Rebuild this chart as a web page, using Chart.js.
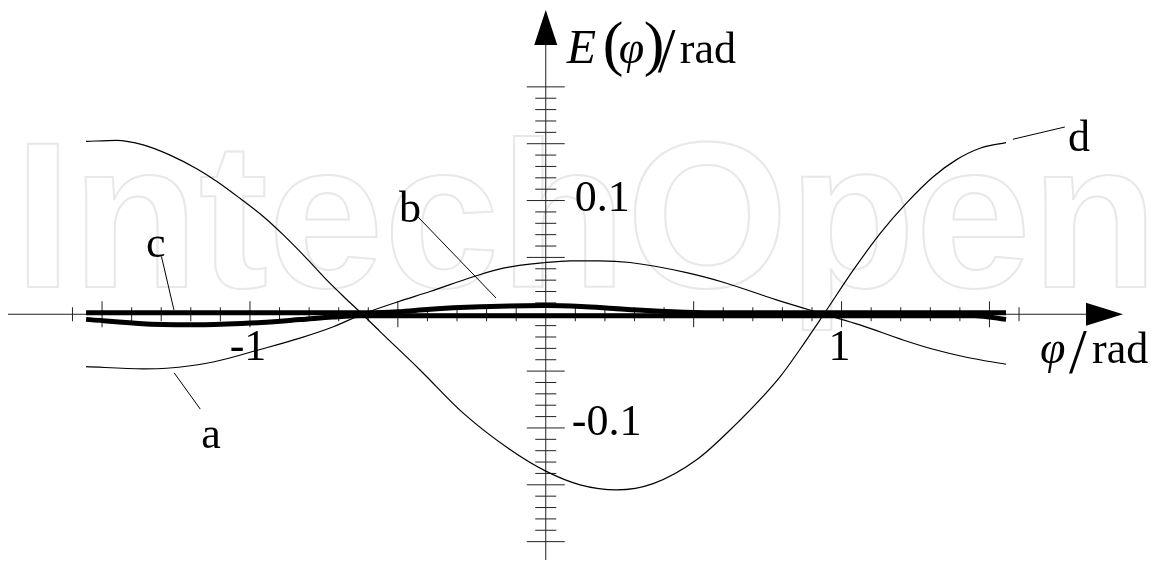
<!DOCTYPE html>
<html>
<head>
<meta charset="utf-8">
<script src="https://cdn.jsdelivr.net/npm/chart.js@4"></script>
<style>
  body { margin: 0; background: #fff; }
  canvas { display: block; }
</style>
</head>
<body>
<canvas id="myChart" width="1156" height="562"></canvas>
<script>
// Curve d (thin)
const dPhi = [-1.554, -1.451, -1.361, -1.270, -1.180, -1.113, -1.034, -0.955, -0.888, -0.808, -0.740, -0.673, -0.620, -0.561, -0.425, -0.279, -0.121, 0, 0.116, 0.240, 0.363, 0.510, 0.634, 0.792, 0.859, 0.940, 1.040, 1.130, 1.220, 1.310, 1.389, 1.468, 1.556];
const dE   = [0.152, 0.153, 0.149, 0.140, 0.128, 0.117, 0.102, 0.086, 0.070, 0.049, 0.030, 0.013, 0, -0.015, -0.049, -0.087, -0.119, -0.138, -0.150, -0.1545, -0.149, -0.128, -0.099, -0.055, -0.031, 0, 0.039, 0.071, 0.098, 0.121, 0.136, 0.146, 0.151];

// Curve a (thin)
const aPhi = [-1.554, -1.361, -1.282, -1.124, -0.966, -0.831, -0.718, -0.620, -0.499, -0.391, -0.245, -0.144, 0, 0.083, 0.183, 0.285, 0.476, 0.611, 0.780, 0.940, 1.062, 1.208, 1.310, 1.422, 1.556];
const aE   = [-0.046, -0.048, -0.0475, -0.042, -0.031, -0.021, -0.011, 0, 0.011, 0.020, 0.033, 0.0405, 0.0455, 0.047, 0.047, 0.0455, 0.0366, 0.0273, 0.0126, 0, -0.0094, -0.0226, -0.0308, -0.0378, -0.044];

// Curve b (thick, small bump)
const bPhi = [-1.554, -1.0, -0.6, -0.5, -0.39, -0.22, 0, 0.12, 0.23, 0.34, 0.5, 0.6, 1.0, 1.556];
const bE   = [0.0013, 0.0013, 0.0013, 0.0022, 0.0045, 0.0065, 0.0077, 0.0068, 0.005, 0.0032, 0.0015, 0.0013, 0.0013, 0.0013];

// Curve c (thick, small dip)
const cPhi = [-1.554, -1.35, -1.17, -1.0, -0.83, -0.72, -0.63, 0, 1.0, 1.45, 1.556];
const cE   = [-0.0045, -0.0085, -0.0092, -0.0077, -0.0047, -0.0025, -0.0013, -0.0013, -0.0013, -0.0013, -0.0045];

// Axis ticks
const xTicks = Array.from({ length: 33 }, (_, i) => (i - 16) / 10); // -1.6 .. 1.6
const yTicks = Array.from({ length: 41 }, (_, i) => (i - 20) / 100); // -0.2 .. 0.2
const xTickLabels = [-1, 1];
const yTickLabels = [0.1, -0.1];

// visible window of the axes
const xMin = -1.845, xMax = 2.063;
const yMin = -0.2179, yMax = 0.2764;

const toPoints = (xs, ys) => xs.map((x, i) => ({ x: x, y: ys[i] }));

const serif = '"Liberation Serif", "Times New Roman", serif';
const ink = '#000';

function arrow(ctx, tipX, tipY, dx, dy, len, half) {
    const bx = tipX - dx * len, by = tipY - dy * len;
    ctx.beginPath();
    ctx.moveTo(tipX, tipY);
    ctx.lineTo(bx - dy * half, by + dx * half);
    ctx.lineTo(bx + dy * half, by - dx * half);
    ctx.closePath();
    ctx.fill();
}

function txt(ctx, s, font, x, y) {
    ctx.font = font;
    ctx.fillText(s, x, y);
}

const axesPlugin = {
    id: 'crossAxes',
    beforeDraw(chart) {
        // faint watermark behind everything
        const ctx = chart.ctx;
        ctx.save();
        ctx.font = 'bold 208px "Liberation Sans", Arial, sans-serif';
        ctx.strokeStyle = '#e8e8e8';
        ctx.lineWidth = 2;
        ctx.textBaseline = 'alphabetic';
        ctx.strokeText('IntechOpen', 14, 287);
        ctx.restore();
    },
    beforeDatasetsDraw(chart) {
        const ctx = chart.ctx;
        const xs = chart.scales.x, ys = chart.scales.y;
        const x0 = xs.getPixelForValue(0), y0 = ys.getPixelForValue(0);
        ctx.save();
        ctx.strokeStyle = '#222';
        ctx.fillStyle = ink;
        ctx.lineWidth = 1;

        // horizontal axis
        ctx.beginPath();
        ctx.moveTo(8, y0);
        ctx.lineTo(1100, y0);
        ctx.stroke();
        arrow(ctx, 1123, y0, 1, 0, 37, 11.5);

        // vertical axis
        ctx.beginPath();
        ctx.moveTo(x0, 560);
        ctx.lineTo(x0, 30);
        ctx.stroke();
        arrow(ctx, x0, 10, 0, -1, 35, 11.5);

        // x ticks, longer every 0.5
        ctx.beginPath();
        xTicks.forEach(v => {
            if (v === 0) return;
            const px = xs.getPixelForValue(v);
            const major = Math.abs(v * 2 - Math.round(v * 2)) < 1e-6;
            const h = major ? 13 : 7;
            ctx.moveTo(px, y0 - h);
            ctx.lineTo(px, y0 + h);
        });
        // y ticks, longer every 0.05
        yTicks.forEach(v => {
            if (v === 0) return;
            const py = ys.getPixelForValue(v);
            const major = Math.abs(v * 20 - Math.round(v * 20)) < 1e-6;
            const w = major ? 19 : 10.5;
            ctx.moveTo(x0 - w, py);
            ctx.lineTo(x0 + w, py);
        });
        ctx.stroke();

        // tick labels
        ctx.font = '44px ' + serif;
        ctx.textBaseline = 'middle';
        ctx.textAlign = 'center';
        xTickLabels.forEach(v => {
            ctx.fillText(String(v), xs.getPixelForValue(v) - 2, y0 + 34);
        });
        ctx.textAlign = 'left';
        yTickLabels.forEach(v => {
            const py = ys.getPixelForValue(v);
            ctx.fillText(String(v), x0 + (v > 0 ? 29 : 26), py + (v > 0 ? -1 : -5));
        });
        ctx.restore();
    },
    afterDatasetsDraw(chart) {
        const ctx = chart.ctx;
        const xs = chart.scales.x, ys = chart.scales.y;
        const P = (x, y) => [xs.getPixelForValue(x), ys.getPixelForValue(y)];
        ctx.save();
        ctx.fillStyle = ink;
        ctx.strokeStyle = ink;
        ctx.lineWidth = 1;

        // curve labels with leader lines
        const notes = [
            { t: 'a', at: [-1.132, -0.1176], from: [-1.256, -0.0516], to: [-1.168, -0.0834] },
            { t: 'b', at: [-0.459, 0.0812], from: [-0.432, 0.0856], to: [-0.168, 0.0143] },
            { t: 'c', at: [-1.318, 0.0504], from: [-1.299, 0.0507], to: [-1.257, 0.0038] },
            { t: 'd', at: [1.803, 0.1436], from: [1.579, 0.1539], to: [1.755, 0.1647] }
        ];
        ctx.font = '44px ' + serif;
        ctx.textAlign = 'center';
        ctx.textBaseline = 'alphabetic';
        notes.forEach(n => {
            const [lx, ly] = P(n.at[0], n.at[1]);
            ctx.fillText(n.t, lx, ly);
            const [ax, ay] = P(n.from[0], n.from[1]);
            const [bx, by] = P(n.to[0], n.to[1]);
            ctx.beginPath();
            ctx.moveTo(ax, ay);
            ctx.lineTo(bx, by);
            ctx.stroke();
        });

        // axis titles
        ctx.textAlign = 'left';
        const x0 = xs.getPixelForValue(0), y0 = ys.getPixelForValue(0);
        // E(φ)/rad
        txt(ctx, 'E', 'italic 48px ' + serif, x0 + 21, 63);
        txt(ctx, '(', '62px ' + serif, x0 + 57, 64);
        txt(ctx, '\u03C6', 'italic 46px ' + serif, x0 + 73, 63);
        txt(ctx, ')', '62px ' + serif, x0 + 98, 64);
        txt(ctx, '/', '64px ' + serif, x0 + 112, 72);
        txt(ctx, 'rad', '44px ' + serif, x0 + 134, 63);

        // φ/rad
        txt(ctx, '\u03C6', 'italic 46px ' + serif, 1040, y0 + 49);
        txt(ctx, '/', '64px ' + serif, 1069, y0 + 59);
        txt(ctx, 'rad', '44px ' + serif, 1092, y0 + 49);
        ctx.restore();
    }
};

const ctx1 = document.getElementById('myChart');

const thin = { borderColor: '#000', borderWidth: 1.2, pointRadius: 0, showLine: true, cubicInterpolationMode: 'monotone', fill: false };
const thick = { borderColor: '#000', borderWidth: 5, pointRadius: 0, showLine: true, cubicInterpolationMode: 'monotone', fill: false };

const data1 = {
    datasets: [
        Object.assign({ label: 'a', data: toPoints(aPhi, aE) }, thin),
        Object.assign({ label: 'b', data: toPoints(bPhi, bE) }, thick),
        Object.assign({ label: 'c', data: toPoints(cPhi, cE) }, thick),
        Object.assign({ label: 'd', data: toPoints(dPhi, dE) }, thin)
    ]
};

const config1 = {
    type: 'scatter',
    data: data1,
    options: {
        responsive: false,
        animation: false,
        layout: { padding: 0 },
        plugins: {
            legend: { display: false },
            tooltip: { enabled: false }
        },
        scales: {
            x: { type: 'linear', min: xMin, max: xMax, display: false },
            y: { type: 'linear', min: yMin, max: yMax, display: false }
        }
    },
    plugins: [axesPlugin]
};

const myChart1 = new Chart(ctx1, config1);
</script>
</body>
</html>
